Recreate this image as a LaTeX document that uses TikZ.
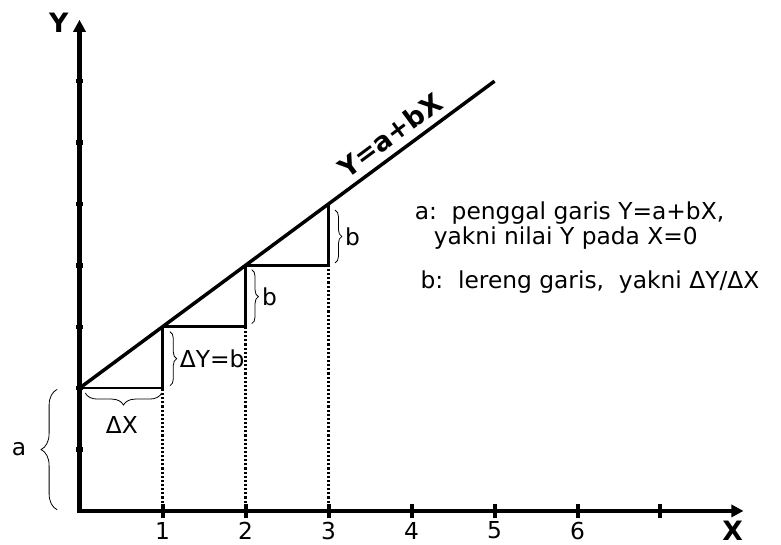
\documentclass[tikz,border=0pt]{standalone}
\usepackage{fontspec}
\setmainfont{DejaVu Sans}
\usetikzlibrary{arrows.meta,decorations.pathreplacing,calc}

\begin{document}
\begin{tikzpicture}[
  x=62.25pt, y=46.05pt,
  font=\fontsize{17.5}{20}\selectfont,
  axis/.style={line width=3.4pt},
  tick/.style={line width=3pt},
  regline/.style={line width=2.6pt},
  stair/.style={line width=2pt},
  guide/.style={line width=1.6pt, dash pattern=on 1.6pt off 1.5pt},
  brc/.style={decorate, decoration={brace, amplitude=#1}, line width=0.6pt},
  brc/.default=5pt,
  lbl/.style={inner sep=1pt},
  big/.style={inner sep=1pt, font=\fontsize{20}{22}\selectfont\bfseries},
  >={Triangle[length=9pt,width=9pt]}]
  \useasboundingbox (-0.958,-0.554) rectangle (8.452,8.322);
  \coordinate (O) at (0,0);
  \coordinate (ytop) at (0,8);
  \coordinate (xend) at (7,0);
  \coordinate (xtip) at (8,0);
  \coordinate (A) at (0,2);
  \coordinate (E) at (5,7);
  \draw[axis,<-] (ytop) -- (O) -- (xend);
  \draw[line width=2.4pt,->] (xend) -- (xtip);
  \foreach \i in {1,...,7}
    \draw[tick] (\i,-0.12) -- (\i,0.12);
  \foreach \i in {1,...,6}
    \node[lbl] (xl\i) at (\i,-0.32) {\i};
  \foreach \j in {1,...,7}
    \fill (-0.048,\j-0.035) rectangle (0.048,\j+0.035);
  \node[big] (ylab) at (-0.25,7.95) {Y};
  \node[big, inner sep=0pt] (xlab) at (7.87,-0.32) {X};
  \foreach \k [evaluate=\k as \n using int(\k+1), evaluate=\k as \h using int(\k+2), evaluate=\k as \v using int(\k+3)] in {0,1,2} {
    \coordinate (s\k) at (\k,\h);
    \coordinate (c\k) at (\n,\h);
    \coordinate (t\k) at (\n,\v);
    \coordinate (f\k) at (\n,0);
    \draw[stair] (s\k) -- (c\k) -- (t\k);
    \draw[guide] (f\k) -- (c\k);
  }
  \draw[regline] (A) -- (E) node[big, pos=0.775, sloped, above=4pt] (eq) {Y=a+bX};
  \draw[brc=12pt] (-0.27,0.02) -- (-0.27,1.98);
  \node[lbl] (alab) at (-0.73,1.0) {a};
  \draw[brc=9pt] (0.99,1.92) -- (0.07,1.92);
  \node[lbl] (dxlab) at (0.51,1.40) {ΔX};
  \draw[brc] (1.09,2.92) -- (1.09,2.04);
  \node[lbl, anchor=west] (dylab) at (1.19,2.48) {ΔY=b};
  \draw[brc] (2.075,3.93) -- (2.075,3.05);
  \node[lbl, anchor=west] (b1) at (2.18,3.49) {b};
  \draw[brc] (3.08,4.90) -- (3.08,4.04);
  \node[lbl, anchor=west] (b2) at (3.18,4.46) {b};
  \node[lbl, anchor=base west] (ta) at (4.02,4.74) {a:\ \ penggal garis Y=a+bX,};
  \node[lbl, anchor=base west] (tb) at (4.25,4.34) {yakni nilai Y pada X=0};
  \node[lbl, anchor=base west] (tc) at (4.09,3.63) {b:\ \ lereng garis,\ \ yakni ΔY/ΔX};
\end{tikzpicture}
\end{document}
